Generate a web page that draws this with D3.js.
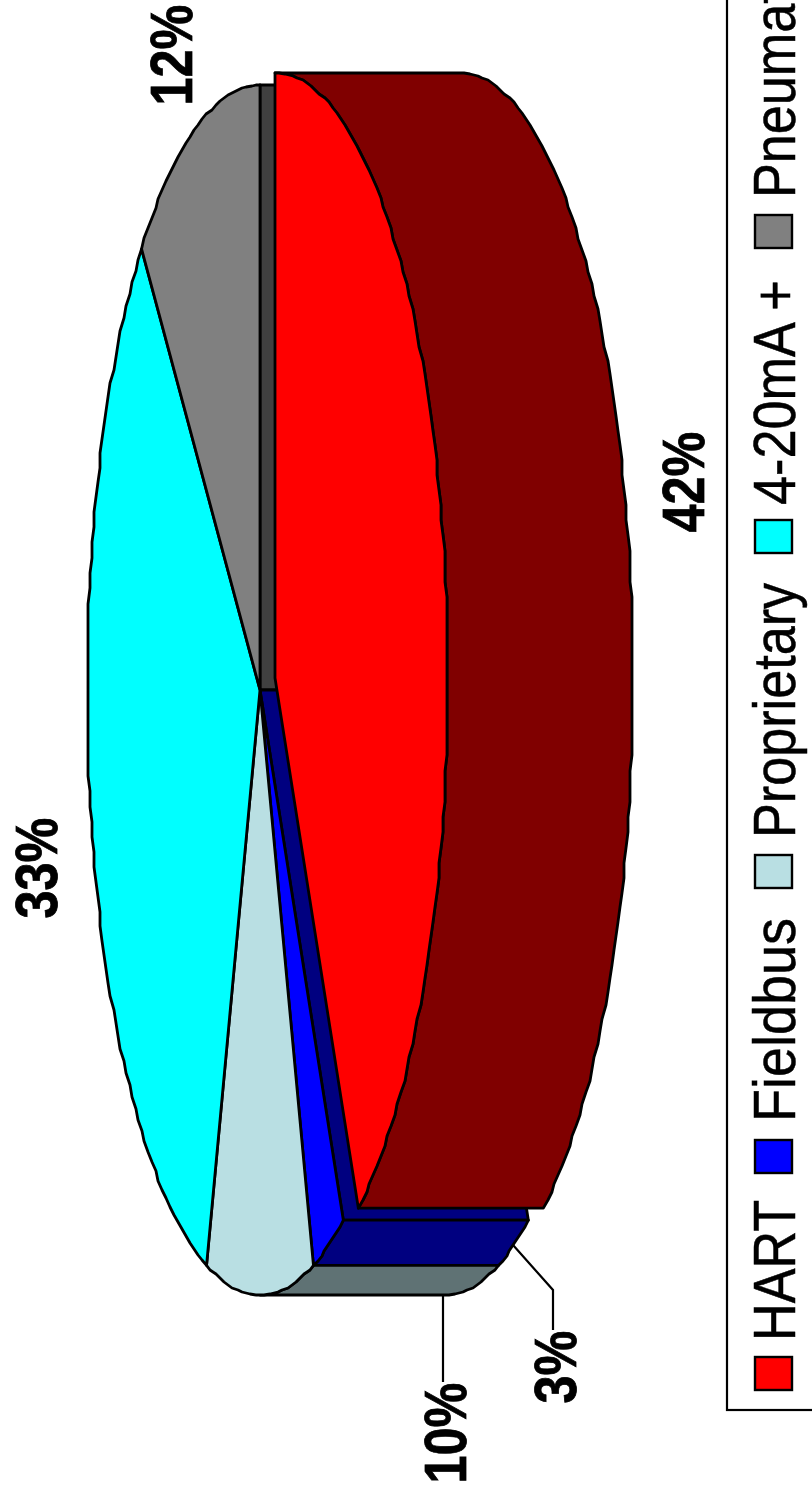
<!DOCTYPE html>
<html lang="en">
<head>
    <meta charset="UTF-8">
    <title>Pie chart</title>
    <script src="https://d3js.org/d3.v7.min.js"></script>
    <style>
        html, body { margin: 0; padding: 0; background: #fff; overflow: hidden; }
        svg { display: block; }
        text { font-family: "Liberation Sans", Arial, sans-serif; font-size: 60px; fill: #000; }
        .pct { font-weight: bold; stroke: #000; stroke-width: 0.8px; }
        .leg { stroke: #000; stroke-width: 0.5px; }
    </style>
</head>
<body>
    <svg id="chart" width="812" height="1494"></svg>

    <script>
        const categories = ["HART", "Fieldbus", "Proprietary", "4-20mA +", "Pneumatic"];
        const values = [42, 3, 10, 33, 12];
        const topColors = ["#ff0000", "#0000ff", "#b9dfe3", "#00ffff", "#808080"];
        const sideColors = ["#800000", "#000080", "#5f7274", "#008080", "#404040"];

        const svg = d3.select("#chart");

        // the page is the chart turned a quarter, so everything is projected on a tall ellipse
        const cx = 260, cy = 690, rx = 173, ry = 605, depth = 185;
        const explode = [15, -12];

        const slices = d3.pie().sort(null).value(d => d)(values);

        const px = a => cx + rx * Math.sin(a);
        const py = a => cy - ry * Math.cos(a);
        const snap = v => Math.round(v / 2) * 2;

        // points along the rim, snapped to a coarse grid to get the stepped edge of the original
        function rim(a0, a1) {
            const n = Math.max(2, Math.ceil((a1 - a0) / (1.5 * Math.PI / 180)));
            return d3.range(n + 1).map(i => {
                const a = a0 + (a1 - a0) * i / n;
                if (i === 0 || i === n) return [px(a), py(a)];
                return [snap(px(a)), Math.round(py(a))];
            });
        }

        const shift = (pts, dx, dy) => pts.map(p => [p[0] + dx, p[1] + dy]);
        const line = d3.line();

        function poly(g, pts, fill) {
            g.append("path")
                .attr("d", line(pts) + "Z")
                .attr("fill", fill)
                .attr("stroke", "#000")
                .attr("stroke-width", 2.8)
                .attr("stroke-linejoin", "round");
        }

        const pie = svg.append("g");

        // radial walls seen through the gap left by the pulled out slice
        const last = slices[4];
        poly(pie, [[cx, cy], [px(last.endAngle), py(last.endAngle)],
            [px(last.endAngle) + depth, py(last.endAngle)], [cx + depth, cy]], sideColors[4]);
        const blue = slices[1];
        poly(pie, [[cx, cy], [px(blue.startAngle), py(blue.startAngle)],
            [px(blue.startAngle) + depth, py(blue.startAngle)], [cx + depth, cy]], sideColors[1]);

        // outer walls and tops of the slices that stay in place
        [1, 2].forEach(i => {
            const s = slices[i];
            const a1 = Math.min(s.endAngle, Math.PI);
            const arc = rim(s.startAngle, a1);
            poly(pie, arc.concat(shift(arc, depth, 0).reverse()), sideColors[i]);
        });
        [1, 2, 3, 4].forEach(i => {
            const s = slices[i];
            poly(pie, [[cx, cy]].concat(rim(s.startAngle, s.endAngle)), topColors[i]);
        });

        // HART is pulled out of the pie
        const s0 = slices[0];
        const arc0 = shift(rim(s0.startAngle, s0.endAngle), explode[0], explode[1]);
        poly(pie, arc0.concat(shift(arc0, depth, 0).reverse()), sideColors[0]);
        poly(pie, [[cx + explode[0], cy + explode[1]]].concat(arc0), topColors[0]);

        // percent labels, text is squeezed a little along its baseline
        const labelX = [704, 576, 466, 57, 192];
        const labelY = [482, 1367, 1433, 868, 55];

        function vtext(str, x, y, anchor, cls, sx) {
            svg.append("text")
                .attr("class", cls)
                .attr("text-anchor", anchor)
                .attr("transform", `translate(${x},${y}) rotate(-90) scale(${sx},1)`)
                .text(str);
        }

        values.forEach((v, i) => vtext(v + "%", labelX[i], labelY[i], "middle", "pct", 0.84));

        // leader lines
        const leader = d3.line();
        [[[513, 1245], [553, 1290], [553, 1330]], [[443, 1294], [443, 1382]]].forEach(l => {
            svg.append("path")
                .attr("d", leader(l))
                .attr("fill", "none")
                .attr("stroke", "#000")
                .attr("stroke-width", 2.2);
        });

        // legend
        svg.append("rect")
            .attr("x", 727).attr("y", -50)
            .attr("width", 200).attr("height", 1460)
            .attr("fill", "none")
            .attr("stroke", "#000")
            .attr("stroke-width", 2.2);

        const swatchY = [1357, 1140, 855, 520, 215];
        const textY = [1341, 1122, 838, 505, 198];
        const textScale = [0.87, 0.9, 0.87, 0.87, 0.87];
        categories.forEach((c, i) => {
            svg.append("rect")
                .attr("x", 755).attr("y", swatchY[i])
                .attr("width", 37).attr("height", 33)
                .attr("fill", topColors[i])
                .attr("stroke", "#000")
                .attr("stroke-width", 2.4);
            vtext(c, 795, textY[i], "start", "leg", textScale[i]);
        });
    </script>
</body>
</html>
